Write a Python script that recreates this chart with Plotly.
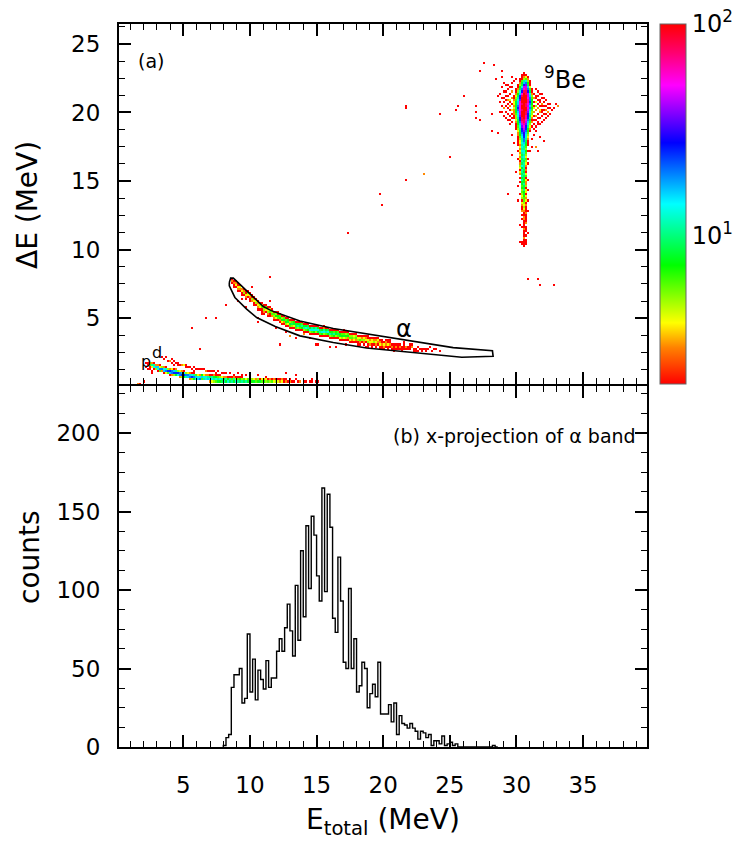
import math
import plotly.graph_objects as go

# ======================= DATA =======================
# Lower panel: x-projection of the alpha gate (0.2 MeV bins starting at 8.0 MeV)
proj_first_edge = 8.0
proj_bin_width = 0.2
proj_counts = [1, 6, 8, 38, 46, 46, 50, 28, 31, 72,
               35, 56, 30, 49, 43, 37, 55, 38, 44, 44,
               61, 69, 61, 76, 91, 74, 58, 103, 68, 125,
               83, 141, 101, 147, 135, 109, 93, 165, 99, 161,
               140, 82, 73, 121, 93, 54, 50, 101, 50, 69,
               35, 39, 54, 50, 25, 34, 40, 32, 54, 21,
               21, 21, 27, 16, 28, 8, 20, 15, 14, 12,
               15, 12, 10, 5, 10, 9, 6, 8, 1, 4,
               4, 2, 7, 1, 2, 3, 1, 2, 0, 0,
               0, 0, 0, 0, 0, 0, 0, 0, 0, 0,
               0, 1, 0]

# Upper panel: 2D histogram (0.15 MeV x 0.15 MeV bins); counts coded per cell
bin_size = 0.15
count_codes = {'a': 11, 'b': 13, 'c': 16, 'd': 20, 'e': 25, 'f': 30,
               'g': 38, 'h': 45, 'i': 55, 'j': 65, 'k': 80, 'l': 100}

# alpha band: one entry per column (first column index 57), cells listed upward from base row
alpha_first_col = 57
alpha_base_row = [49, 48, 47, 46, 45, 44, 43, 42, 42, 41,
                  40, 39, 38, 37, 36, 36, 35, 35, 34, 34,
                  33, 32, 32, 31, 31, 30, 30, 29, 29, 28,
                  28, 28, 27, 27, 27, 27, 26, 26, 26, 25,
                  25, 25, 25, 25, 24, 24, 24, 24, 24, 23,
                  23, 23, 23, 23, 22, 22, 22, 22, 22, 21,
                  21, 21, 21, 20, 20, 20, 20, 20, 19, 19,
                  19, 19, 19, 19, 18, 18, 18, 18, 18, 18,
                  17, 17, 17, 17, 17, 17, 17, 17, 17, 17,
                  17, 16, 16, 16, 16, 16, 16, 16, 16, 16,
                  16, 16, 15, 15, 15]
alpha_cells = ["01320", "12310", "02431", "13421", "01341", "12430", "02531", "13421", "01451", "12341",
               "03521", "12431", "02541", "13431", "01452", "12641", "13531", "02461", "13541", "12641",
               "03651", "13562", "14751", "02672", "13761", "24752", "13861", "25762", "14871", "26852",
               "15961", "24872", "16981", "25a72", "16981", "27a62", "15a82", "26b71", "17a92", "25b81",
               "16ba2", "27b91", "15ba2", "28b71", "16a92", "27b81", "15ba3", "26a81", "17b92", "25a71",
               "16982", "27a61", "15872", "26961", "14872", "25761", "14862", "25751", "13762", "24651",
               "13652", "24541", "13651", "02542", "13641", "02531", "13541", "02432", "12541", "03431",
               "12442", "01531", "13431", "02341", "12431", "01321", "13420", "02331", "12421", "01321",
               "02310", "12210", "01320", "02210", "01310", "12200", "02210", "01300", "02100", "01210",
               "00310", "01200", "02100", "01010", "00200", "01100", "00100", "01200", "00100", "00010",
               "01000", "00100", "00010", "00000", "00100"]

# proton band: one entry per column (first column index 16)
p_first_col = 16
p_base_row = [9, 9, 8, 8, 7, 7, 7, 6, 6, 6,
              5, 5, 5, 5, 5, 4, 4, 4, 4, 4,
              3, 3, 3, 3, 3, 3, 3, 3, 3, 3,
              2, 2, 2, 2, 2, 2, 2, 2, 2, 2,
              2, 2, 2, 2, 2, 2, 2, 2, 2, 2,
              2, 2, 2, 2, 2, 2, 2, 2, 2, 2,
              2, 2, 2, 2, 2, 2, 2, 2, 2, 2,
              2, 2, 2, 2, 2, 2, 2, 2, 2, 2,
              2, 2, 2, 2]
p_cells = ["264", "4a3", "2ba1", "5c3", "2bc3", "6d4", "3d5", "2cb3", "4db2", "6e5",
           "2ce3", "3dd4", "5ec2", "8ea3", "be5", "3dd4", "5ec3", "8eb2", "ad5", "cd4",
           "3dc3", "5eb2", "8da2", "bc6", "cb4", "db3", "6c7", "ab4", "bb3", "ca3",
           "3b92", "4ba1", "5a83", "6b71", "8a62", "7b51", "9a4", "a83", "8a3", "b72",
           "9a2", "a61", "8a3", "b51", "a62", "971", "a52", "96", "a4", "86",
           "93", "75", "84", "63", "75", "82", "64", "73", "54", "62",
           "53", "61", "43", "52", "41", "32", "43", "21", "32", "2",
           "31", "1", "2", "01", "1", "3", "0", "1", "2", "0",
           "1", "1", "0", "1"]

# 9Be locus: one entry per row, from row 152 downward, cells listed rightward from base column
be_top_row = 152
be_base_col = [203, 202, 202, 201, 201, 201, 200, 200, 199, 199,
               199, 198, 198, 198, 198, 198, 198, 198, 198, 198,
               198, 198, 198, 199, 199, 199, 199, 199, 200, 200,
               200, 200, 200, 200, 200, 200, 201, 201, 200, 201,
               201, 201, 200, 201, 201, 201, 201, 201, 201, 201,
               202, 201, 202, 201, 202, 202, 202, 202, 202, 201,
               202, 202, 202, 202, 202, 202, 202, 202, 203, 202,
               203, 202, 203, 203, 203, 202, 203, 203, 203, 203,
               203, 203, 202, 202, 203]
be_cells = ["1", "121", "1341", "12563", "26ab52", "38cd71", "159eg92", "27bhhc4", "139dijd61", "25bfkkf82",
            "37cilkhb3", "149ekllhc5", "25aflllid6", "36bgllljd7", "48cilllje8", "48ciklkid7", "38dillkhc6", "49eilllid7", "38dikllhc6", "37chllkgb5",
            "36bhllkfa5", "25bglljf94", "15afkljea3", "49ekkid82", "38djkhc61", "27chjgb5", "26bgifa4", "15afhe83", "49egd72", "38dfc6",
            "37cfb5", "26beb4", "25ada3", "24ad92", "14bc81", "13ab71", "4ba6", "3aa5", "14bb72", "3ab6",
            "49a5", "3ab4", "149a61", "2a95", "39a4", "5ba3", "48a2", "2a93", "4a81", "39a4",
            "a96", "2892", "a74", "1883", "8a3", "695", "782", "5a4", "674", "1582",
            "474", "563", "2641", "452", "343", "251", "142", "331", "23", "121",
            "32", "131", "21", "13", "2", "121", "31", "12", "1", "21",
            "3", "12", "121", "212", "1"]

# scattered cells around the 9Be locus: (column index, row index, counts)
be_halo = [(192, 140, 1), (193, 138, 2), (194, 141, 1), (193, 135, 3), (195, 137, 2), (196, 139, 4), (196, 134, 2),
           (195, 132, 1), (194, 136, 1), (197, 143, 3), (196, 142, 2), (195, 144, 1), (194, 146, 1), (193, 143, 1),
           (192, 136, 1), (191, 138, 1), (196, 131, 1), (194, 133, 2), (195, 139, 3), (197, 137, 2), (190, 141, 1),
           (192, 145, 1), (196, 145, 2), (197, 147, 1), (193, 131, 1), (195, 129, 1), (197, 128, 2), (196, 127, 1),
           (191, 133, 1), (194, 139, 2), (196, 136, 3), (197, 134, 4), (189, 149, 1), (192, 150, 1), (195, 141, 1),
           (193, 147, 1), (194, 130, 1), (197, 140, 3), (197, 132, 2), (196, 138, 2), (195, 135, 1), (194, 143, 2),
           (193, 140, 1), (192, 133, 1), (191, 142, 1), (195, 146, 1), (197, 145, 2), (196, 129, 2), (197, 130, 1),
           (199, 149, 1), (205, 150, 1), (206, 147, 2), (198, 148, 1), (204, 151, 1), (197, 150, 1),
           (207, 140, 3), (208, 138, 2), (209, 141, 1), (208, 135, 4), (210, 137, 2), (209, 134, 3), (211, 139, 1),
           (210, 132, 2), (212, 136, 1), (208, 131, 2), (209, 129, 1), (211, 133, 3), (213, 138, 1), (207, 136, 4),
           (208, 142, 2), (210, 143, 1), (207, 144, 2), (212, 140, 2), (213, 134, 2), (214, 136, 1), (211, 130, 1),
           (212, 131, 2), (214, 132, 1), (215, 135, 1), (216, 137, 1), (215, 133, 3), (213, 129, 1), (210, 127, 1),
           (209, 126, 2), (207, 128, 3), (208, 133, 3), (209, 138, 4), (210, 135, 3), (211, 136, 2), (212, 134, 2),
           (213, 132, 1), (208, 140, 3), (209, 136, 5), (207, 130, 2), (208, 127, 1), (209, 144, 1), (211, 142, 1),
           (212, 128, 1), (214, 139, 1), (216, 132, 1), (217, 134, 1), (220, 136, 3), (218, 135, 1), (219, 137, 2),
           (210, 139, 2), (206, 133, 4), (206, 135, 3), (207, 138, 5), (207, 134, 3), (208, 136, 2), (208, 129, 2),
           (209, 131, 3), (209, 140, 2), (210, 130, 1), (210, 141, 2), (211, 134, 4), (211, 138, 2), (212, 137, 3),
           (212, 133, 1), (213, 136, 2), (213, 140, 1), (214, 134, 3), (214, 130, 1), (215, 137, 2), (215, 131, 1),
           (216, 135, 2), (212, 142, 1), (210, 128, 2), (211, 127, 1), (207, 126, 1), (208, 125, 1),
           (198, 118, 1), (197, 112, 1), (206, 114, 1), (207, 120, 2), (205, 108, 1), (199, 104, 1), (200, 97, 1),
           (205, 100, 1), (205, 95, 1), (200, 90, 1), (205, 85, 1), (201, 78, 1), (205, 74, 1), (201, 70, 1),
           (208, 122, 1), (209, 124, 1), (197, 122, 1), (207, 116, 1), (210, 114, 1), (213, 119, 1), (211, 121, 1),
           (209, 116, 3)]

# isolated events: (E_total MeV, dE MeV, counts)
sparse_points = [
    (3.40, 2.10, 1), (3.55, 1.95, 2), (3.70, 2.20, 1), (3.75, 1.90, 1), (3.90, 1.85, 3), (4.05, 1.95, 1),
    (4.10, 1.75, 2), (4.25, 1.80, 1), (4.40, 1.70, 1), (4.50, 1.62, 2), (4.60, 1.78, 1), (4.70, 1.60, 1),
    (4.85, 1.55, 3), (5.00, 1.50, 4), (5.10, 1.60, 1), (5.20, 1.45, 2), (5.35, 1.48, 1), (5.50, 1.40, 1),
    (5.60, 1.30, 1), (5.75, 1.38, 2), (5.90, 1.30, 1), (6.05, 1.25, 1), (6.20, 1.32, 1), (6.35, 1.20, 2),
    (6.50, 1.25, 1), (6.65, 1.18, 3), (6.80, 1.10, 1), (6.95, 1.15, 1), (7.10, 1.08, 1), (7.25, 1.12, 1),
    (7.40, 1.02, 2), (7.60, 1.05, 1), (7.80, 0.98, 1), (8.00, 1.00, 1), (8.20, 0.92, 1), (8.45, 0.95, 1),
    (8.70, 0.88, 1), (9.00, 0.90, 1), (9.30, 0.85, 1), (9.60, 0.82, 1), (10.0, 0.80, 1), (10.5, 0.78, 1),
    (11.2, 0.72, 1), (4.30, 1.50, 1), (5.80, 1.15, 1), (3.20, 1.60, 1),
    (2.25, 1.75, 1), (2.35, 1.55, 1), (2.30, 1.30, 1), (2.45, 1.20, 1), (2.60, 1.10, 1), (2.20, 1.45, 1),
    (2.70, 1.35, 1), (2.15, 1.65, 1), (2.55, 0.95, 1),
    (1.50, 0.28, 3), (1.65, 0.28, 2), (2.00, 0.38, 1), (12.6, 0.90, 1), (13.4, 0.75, 1), (14.6, 0.50, 1),
    (15.1, 0.40, 1),
    (5.55, 4.20, 1), (6.15, 2.70, 1), (6.60, 5.05, 1), (7.40, 5.05, 1), (8.20, 5.95, 1),
    (10.1, 7.30, 1), (11.4, 8.00, 1), (9.10, 6.15, 1), (9.60, 5.78, 1), (10.5, 5.05, 1), (11.9, 4.33, 1),
    (12.25, 3.10, 1), (13.0, 3.71, 3), (14.5, 3.47, 1), (14.9, 3.10, 1), (15.9, 2.99, 1), (16.4, 2.87, 1),
    (18.1, 3.10, 1), (18.6, 2.99, 1), (19.9, 2.75, 1), (10.6, 4.69, 1), (11.4, 6.15, 1), (15.0, 3.04, 1),
    (13.4, 3.55, 1), (12.7, 3.90, 2), (17.2, 3.10, 1), (20.8, 2.60, 1), (9.3, 6.35, 1), (10.9, 5.25, 1),
    (12.1, 5.40, 1), (13.8, 4.75, 1), (15.5, 4.35, 2), (17.0, 4.05, 1), (18.8, 3.70, 1), (21.5, 3.25, 1),
    (14.0, 3.80, 3), (16.0, 3.45, 2),
    (17.30, 11.15, 1), (19.75, 14.00, 1), (19.80, 13.30, 1), (21.60, 15.10, 1), (23.05, 15.55, 3),
    (25.00, 16.70, 1), (21.65, 20.45, 1), (21.70, 20.25, 1), (24.25, 19.90, 1), (25.40, 20.15, 1),
    (25.60, 20.40, 1), (26.00, 21.20, 1), (26.95, 20.40, 1), (26.95, 19.95, 1), (26.95, 19.55, 1),
    (27.25, 19.40, 1), (28.10, 19.90, 1), (28.05, 18.70, 1), (28.50, 18.45, 1), (27.55, 23.67, 1),
    (28.30, 23.50, 1), (27.20, 23.00, 1), (28.90, 22.95, 1), (29.25, 14.00, 1), (30.75, 7.80, 1),
    (31.50, 7.80, 1), (31.70, 7.35, 1), (32.80, 7.40, 1)]

# alpha gate polygon
gate_E = [8.45, 8.55, 8.75, 9.40, 10.25, 11.00, 11.60, 13.75, 16.25, 21.25, 25.25, 28.20,
          28.25, 25.90, 22.50, 18.75, 16.25, 13.75, 11.90, 10.50, 9.75, 8.87, 8.45, 8.45]
gate_dE = [7.60, 7.93, 7.92, 7.30, 6.50, 5.85, 5.55, 4.80, 4.25, 3.47, 2.85, 2.62,
           2.22, 2.15, 2.45, 2.82, 3.23, 3.71, 4.40, 5.05, 5.66, 6.51, 7.35, 7.60]

x_tick_values = [5, 10, 15, 20, 25, 30, 35]
cbar_tick_values = [1, 2]
cbar_tick_text = ["10<sup>1</sup>", "10<sup>2</sup>"]

# ======================= BUILD =======================
FONT = "DejaVu Sans"
W, H = 750, 844
L, R, T, B = 119, 647, 24, 747


def px(x):
    return (x - L) / (R - L)


def py(y):
    return (B - y) / (B - T)


# the two frames share one 2 px line at y = 385
top_bottom = py(384)
bottom_top = py(386)


def decode(ch):
    return int(ch) if ch.isdigit() else count_codes[ch]


cells = {}


def put(i, j, n):
    if n <= 0:
        return
    cells[(i, j)] = max(cells.get((i, j), 0), n)


for k, (b, s) in enumerate(zip(alpha_base_row, alpha_cells)):
    for m, ch in enumerate(s):
        put(alpha_first_col + k, b + m, decode(ch))
for k, (b, s) in enumerate(zip(p_base_row, p_cells)):
    for m, ch in enumerate(s):
        put(p_first_col + k, b + m, decode(ch))
for k, (b, s) in enumerate(zip(be_base_col, be_cells)):
    for m, ch in enumerate(s):
        put(b + m, be_top_row - k, decode(ch))
for (i, j, n) in be_halo:
    put(i, j, n)
for (e, de, n) in sparse_points:
    put(int(e / bin_size), int(de / bin_size), n)

NX, NY = 266, 177
xc = [bin_size * i + bin_size / 2 for i in range(NX)]
yc = [bin_size * j + bin_size / 2 for j in range(NY)]
Z = [[None] * NX for _ in range(NY)]
for (i, j), n in cells.items():
    if 0 <= i < NX and 0 <= j < NY:
        Z[j][i] = math.log10(n)

colorscale = [[0.0, "#ff0000"], [0.10, "#ff8000"], [0.17, "#ffff00"], [0.33, "#00ff00"],
              [0.50, "#00ffff"], [0.67, "#0000ff"], [0.83, "#ff00ff"], [0.92, "#ff0070"],
              [1.0, "#ff0000"]]

fig = go.Figure()

fig.add_trace(go.Heatmap(
    x=xc, y=yc, z=Z, xaxis="x2", yaxis="y2", zmin=0.3, zmax=2.0, zsmooth=False,
    colorscale=colorscale, hoverongaps=False,
    colorbar=dict(x=px(660), xanchor="left", y=1.0, yanchor="top", len=1 - top_bottom,
                  lenmode="fraction", thickness=26, thicknessmode="pixels",
                  xpad=0, ypad=0, outlinewidth=1, outlinecolor="#666",
                  tickmode="array", tickvals=cbar_tick_values, ticktext=cbar_tick_text,
                  ticks="", tickfont=dict(family=FONT, size=24, color="black")),
))

fig.add_trace(go.Scatter(x=gate_E, y=gate_dE, mode="lines", xaxis="x2", yaxis="y2",
                         line=dict(color="black", width=1.6), showlegend=False, hoverinfo="skip"))

edges = [proj_first_edge + proj_bin_width * n for n in range(len(proj_counts) + 1)]
hx = [edges[0]] + edges
hy = [0] + proj_counts + [proj_counts[-1]]
fig.add_trace(go.Scatter(x=hx, y=hy, mode="lines", xaxis="x", yaxis="y",
                         line=dict(color="black", width=1.4, shape="hv"), showlegend=False))

axis_common = dict(showgrid=False, zeroline=False, showline=True, linecolor="black", linewidth=2,
                   mirror="ticks", ticks="inside", tickcolor="black", tickwidth=1.5,
                   tickfont=dict(family=FONT, size=23, color="black"))
minor_x = dict(dtick=1, tick0=0, ticks="inside", ticklen=6, tickwidth=1.2, tickcolor="black")

fig.update_layout(
    width=W, height=H, margin=dict(l=L, r=W - R, t=T, b=H - B),
    paper_bgcolor="white", plot_bgcolor="white", showlegend=False,
    font=dict(family=FONT, color="black"),
    xaxis=dict(domain=[0, 1], anchor="y", range=[0.17, 39.8], tickmode="array",
               tickvals=x_tick_values, ticklen=12, ticklabelstandoff=16, minor=minor_x,
               **axis_common),
    xaxis2=dict(domain=[0, 1], anchor="y2", range=[0.17, 39.8], matches="x", tickmode="array",
                tickvals=x_tick_values, ticklen=12, showticklabels=False, minor=minor_x,
                **axis_common),
    yaxis=dict(domain=[0, bottom_top], anchor="x", range=[0, 230], dtick=50, tick0=0, ticklen=12,
               ticklabelstandoff=12,
               minor=dict(dtick=12.5, tick0=0, ticks="inside", ticklen=6, tickwidth=1.2, tickcolor="black"),
               **axis_common),
    yaxis2=dict(domain=[top_bottom, 1], anchor="x2", range=[0.2, 26.45], dtick=5, tick0=0, ticklen=12,
                ticklabelstandoff=12,
                minor=dict(dtick=1.25, tick0=0, ticks="inside", ticklen=6, tickwidth=1.2, tickcolor="black"),
                **axis_common),
)

# 10^1 tick on the colour bar (dashes from both sides)
y_dec = top_bottom + (1 - 0.3) / 1.7 * (1 - top_bottom)
for x0, x1 in [(660, 671), (675, 686)]:
    fig.add_shape(type="line", xref="paper", yref="paper", x0=px(x0), x1=px(x1), y0=y_dec, y1=y_dec,
                  line=dict(color="black", width=1.5))


def note(text, x, y, size, xanchor="center", yanchor="middle", angle=0):
    fig.add_annotation(text=text, xref="paper", yref="paper", x=px(x), y=py(y), showarrow=False,
                       xanchor=xanchor, yanchor=yanchor, textangle=angle,
                       font=dict(family=FONT, size=size, color="black"))


note("(a)", 151, 61, 19)
note("<sup>9</sup>Be", 542, 78, 24, xanchor="left")
note("α", 404, 329, 24)
note("p", 146, 361, 16)
note("d", 157, 352, 16)
note("(b) x-projection of α band", 638, 436, 19, xanchor="right")
note("ΔE (MeV)", 27, 205, 28, angle=-90)
note("counts", 29, 557, 28, angle=-90)
note("E<sub>total</sub> (MeV)", 383, 821, 28)

fig.write_html("out.html")
